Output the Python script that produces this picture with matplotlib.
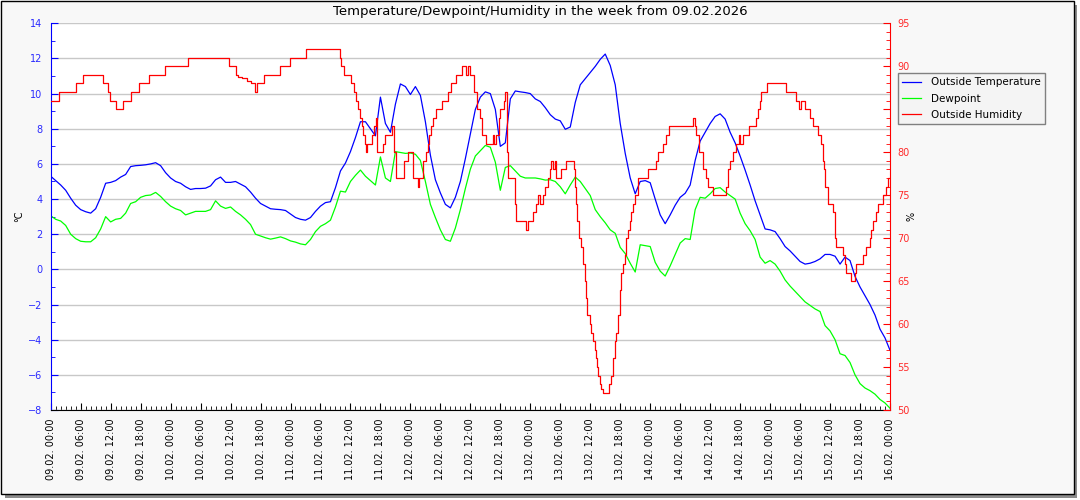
import numpy as np
import pandas as pd
import matplotlib
matplotlib.use('Agg')
import matplotlib.pyplot as plt
import matplotlib.dates as mdates
from matplotlib.patches import Rectangle
from matplotlib.ticker import MultipleLocator

# hourly values, 09.02. 00:00 .. 16.02. 00:00
temp = [
    5.3, 5.05, 4.8, 4.5, 4.05, 3.65, 3.4, 3.28, 3.2, 3.45,
    4.1, 4.9, 4.95, 5.05, 5.25, 5.4, 5.85, 5.9, 5.92, 5.95,
    6.0, 6.07, 5.9, 5.5, 5.2, 5.0, 4.9, 4.7, 4.55, 4.6,
    4.6, 4.62, 4.75, 5.1, 5.25, 4.95, 4.95, 5.0, 4.85, 4.7,
    4.4, 4.05, 3.75, 3.6, 3.45, 3.42, 3.4, 3.35, 3.15, 2.95,
    2.85, 2.8, 2.95, 3.3, 3.6, 3.8, 3.85, 4.65, 5.6, 6.05,
    6.7, 7.5, 8.4, 8.4, 8.0, 7.6, 9.8, 8.3, 7.8, 9.4,
    10.55, 10.4, 9.95, 10.4, 9.9, 8.4, 6.5, 5.1, 4.35, 3.7,
    3.5, 4.1, 5.0, 6.3, 7.7, 9.1, 9.8, 10.1, 10.0, 9.1,
    7.0, 7.2, 9.7, 10.15, 10.1, 10.06, 10.0, 9.7, 9.55, 9.2,
    8.8, 8.55, 8.45, 7.97, 8.1, 9.5, 10.5, 10.85, 11.2, 11.55,
    11.95, 12.25, 11.6, 10.5, 8.3, 6.6, 5.2, 4.3, 5.0, 5.05,
    4.93, 4.0, 3.1, 2.6, 3.1, 3.65, 4.1, 4.33, 4.8, 6.2,
    7.3, 7.8, 8.3, 8.7, 8.85, 8.55, 7.8, 7.2, 6.45, 5.65,
    4.8, 3.9, 3.1, 2.3, 2.25, 2.15, 1.75, 1.3, 1.05, 0.75,
    0.45, 0.3, 0.35, 0.45, 0.6, 0.85, 0.85, 0.75, 0.3, 0.7,
    0.5, -0.4, -1.0, -1.5, -2.0, -2.6, -3.4, -3.9, -4.6]

dew = [
    3.05, 2.85, 2.75, 2.5, 2.0, 1.75, 1.6, 1.57, 1.57, 1.8,
    2.3, 3.0, 2.7, 2.85, 2.9, 3.2, 3.75, 3.85, 4.1, 4.2,
    4.23, 4.38, 4.15, 3.85, 3.6, 3.45, 3.35, 3.1, 3.2, 3.3,
    3.3, 3.3, 3.4, 3.9, 3.6, 3.47, 3.55, 3.3, 3.1, 2.85,
    2.55, 2.0, 1.9, 1.8, 1.72, 1.78, 1.85, 1.75, 1.62, 1.55,
    1.45, 1.4, 1.7, 2.15, 2.45, 2.6, 2.8, 3.55, 4.45, 4.4,
    5.0, 5.35, 5.65, 5.3, 5.05, 4.8, 6.4, 5.2, 5.0, 6.7,
    6.65, 6.6, 6.62, 6.55, 6.2, 5.0, 3.7, 2.95, 2.25, 1.7,
    1.6, 2.35, 3.4, 4.6, 5.7, 6.45, 6.75, 7.05, 6.95, 6.1,
    4.5, 5.8, 5.9, 5.6, 5.3, 5.2, 5.2, 5.2, 5.15, 5.08,
    5.1, 5.0, 4.7, 4.3, 4.8, 5.25, 5.0, 4.6, 4.2, 3.4,
    3.0, 2.65, 2.25, 2.05, 1.25, 0.9, 0.35, -0.15, 1.4, 1.35,
    1.3, 0.4, -0.1, -0.38, 0.2, 0.85, 1.5, 1.75, 1.7, 3.4,
    4.1, 4.05, 4.3, 4.6, 4.65, 4.4, 4.2, 4.0, 3.2, 2.6,
    2.2, 1.7, 0.7, 0.35, 0.5, 0.3, -0.1, -0.6, -0.95, -1.25,
    -1.55, -1.85, -2.05, -2.25, -2.4, -3.2, -3.5, -4.0, -4.8, -4.9,
    -5.3, -6.0, -6.5, -6.75, -6.9, -7.1, -7.4, -7.6, -7.9]

# humidity only changes in steps -> change points (hours since start)
hum_hours = [
    0, 1.6, 5.0, 6.5, 10.5, 11.4, 11.9, 13.0, 14.5, 16.0,
    17.7, 19.7, 22.9, 27.5, 35.6, 37.0, 37.5, 38.3, 39.2, 40.0,
    40.9, 41.3, 42.7, 45.9, 47.9, 51.2, 57.9, 58.2, 58.8, 60.2,
    60.7, 61.2, 61.5, 61.9, 62.3, 62.6, 62.9, 63.2, 63.4, 64.3,
    64.8, 65.2, 65.4, 66.6, 67.0, 68.4, 68.8, 69.1, 70.7, 71.5,
    72.5, 73.5, 73.8, 74.6, 75.2, 75.5, 75.8, 76.2, 76.5, 77.2,
    78.4, 79.5, 80.2, 81.1, 82.4, 83.2, 83.5, 84.0, 84.7, 85.3,
    86.0, 86.4, 87.2, 88.6, 88.8, 89.2, 89.7, 90.0, 90.7, 91.0,
    91.3, 91.6, 92.9, 93.2, 95.2, 95.5, 96.5, 97.1, 97.5, 97.9,
    98.5, 99.0, 99.5, 99.9, 100.2, 100.5, 100.9, 101.1, 102.2, 103.2,
    104.7, 104.9, 105.1, 105.3, 105.7, 106.2, 106.5, 106.9, 107.2, 107.4,
    107.9, 108.2, 108.5, 108.9, 109.1, 109.3, 109.6, 109.9, 110.2, 110.5,
    111.8, 112.2, 112.5, 112.9, 113.2, 113.5, 113.9, 114.2, 114.5, 114.9,
    115.2, 115.5, 115.9, 116.2, 116.5, 116.9, 117.5, 119.5, 121.2, 121.5,
    122.5, 123.2, 123.7, 128.5, 128.9, 129.2, 129.7, 130.5, 131.2, 131.5,
    132.6, 135.2, 135.5, 135.9, 136.5, 137.2, 137.7, 138.0, 138.5, 139.7,
    141.2, 141.5, 141.9, 142.2, 143.3, 147.2, 149.2, 149.7, 150.1, 150.9,
    151.9, 152.5, 153.5, 154.2, 154.5, 154.7, 154.9, 155.5, 156.5, 156.9,
    157.2, 158.5, 158.9, 159.2, 160.2, 160.9, 161.2, 162.5, 163.2, 163.9,
    164.2, 164.5, 165.2, 165.5, 166.5, 167.1, 167.5, 168.0]
hum_vals = [
    86, 87, 88, 89, 88, 87, 86, 85, 86, 87,
    88, 89, 90, 91, 90, 89, 88.8, 88.6, 88.3, 88.1,
    87, 88, 89, 90, 91, 92, 91, 90, 89, 88,
    87, 86, 85, 84, 83, 82, 81, 80, 81, 82,
    83, 84, 80, 81, 82, 83, 80, 77, 79, 80,
    77, 76, 77, 79, 80, 81, 82, 83, 84, 85,
    86, 87, 88, 89, 90, 89, 90, 89, 87, 85,
    84, 82, 81, 82, 81, 82, 84, 85, 86, 87,
    80, 77, 74, 72, 71, 72, 73, 74, 75, 74,
    75, 76, 77, 78, 79, 78, 79, 77, 78, 79,
    78, 76, 74, 72, 70, 69, 67, 65, 63, 61,
    60, 59, 58, 57, 56, 55, 54, 53, 52.5, 52,
    53, 54, 56, 58, 59, 61, 64, 66, 67, 68,
    70, 71, 72, 73, 74, 75, 77, 78, 79, 80,
    81, 82, 83, 84, 83, 82, 80, 78, 77, 76,
    75, 76, 78, 79, 80, 81, 82, 81, 82, 83,
    84, 85, 86, 87, 88, 87, 86, 85, 86, 85,
    84, 83, 82, 81, 79, 78, 76, 74, 73, 70,
    69, 68, 67, 66, 65, 66, 67, 68, 69, 70,
    71, 72, 73, 74, 75, 76, 77, 77]

start = pd.Timestamp('2026-02-09 00:00')
times = start + pd.to_timedelta(np.arange(len(temp)), unit='h')
hum_times = start + pd.to_timedelta(hum_hours, unit='h')

W, H = 1080, 500
fig = plt.figure(figsize=(W / 100, H / 100), dpi=100)
fig.patch.set_facecolor('white')
# frame with drop shadow
fig.add_artist(Rectangle((5 / W, 2 / H), 1072 / W, 493 / H, transform=fig.transFigure,
                         facecolor='#8c8c8c', edgecolor='none', zorder=-20))
fig.add_artist(Rectangle((0.5 / W, 6 / H), 1073 / W, 493.5 / H, transform=fig.transFigure,
                         facecolor='#f8f8f8', edgecolor='black', lw=1.0, zorder=-10))

x0, x1, y0, y1 = 50.7, 890, 23.3, 410
ax = fig.add_axes([x0 / W, 1 - y1 / H, (x1 - x0) / W, (y1 - y0) / H])
ax.set_facecolor('white')
ax.set_axisbelow(True)
ax.plot(times, temp, color='#0000ff', lw=0.9, label='Outside Temperature')
ax.plot(times, dew, color='#00ff00', lw=0.9, label='Dewpoint')

ax2 = ax.twinx()
ax2.step(hum_times, hum_vals, where='post', color='#ff0000', lw=0.9, label='Outside Humidity')

ax.set_xlim(start, start + pd.Timedelta(days=7))
ax.set_ylim(-8, 14)
ax2.set_ylim(50, 95)

ax.yaxis.set_major_locator(MultipleLocator(2))
ax.yaxis.set_minor_locator(MultipleLocator(1))
ax2.yaxis.set_major_locator(MultipleLocator(5))
ax2.yaxis.set_minor_locator(MultipleLocator(1))
ax.xaxis.set_major_locator(mdates.HourLocator(byhour=range(0, 24, 6)))
ax.xaxis.set_minor_locator(mdates.HourLocator())
ax.xaxis.set_major_formatter(mdates.DateFormatter('%d.%m. %H:%M'))

ax.yaxis.grid(True, which='major', color='#c8c8c8', lw=1.0)

ax.tick_params(axis='x', which='both', direction='in', colors='black', labelsize=7, pad=6, labelrotation=90)
ax.tick_params(axis='x', which='major', length=5)
ax.tick_params(axis='x', which='minor', length=3)
ax.tick_params(axis='y', which='both', direction='in', colors='#0000ff', labelsize=7, pad=6)
ax.tick_params(axis='y', which='major', length=5)
ax.tick_params(axis='y', which='minor', length=3)
ax.tick_params(axis='y', labelcolor='#2a2aff')
ax2.tick_params(axis='y', which='both', direction='in', colors='#ff0000', labelsize=7, pad=5)
ax2.tick_params(axis='y', which='major', length=5)
ax2.tick_params(axis='y', which='minor', length=3)
ax2.tick_params(axis='y', labelcolor='#ff2a2a')

for s in ['top', 'right']:
    ax.spines[s].set_visible(False)
ax.spines['left'].set_color('#0000ff')
ax.spines['bottom'].set_color('black')
for s in ['top', 'left', 'bottom']:
    ax2.spines[s].set_visible(False)
ax2.spines['right'].set_color('#ff0000')

ax.set_ylabel('°C', fontsize=7)
ax.yaxis.set_label_coords((24 - x0) / (x1 - x0), 0.5)
ax2.set_ylabel('%', fontsize=7)
ax2.yaxis.set_label_coords((906.5 - x0) / (x1 - x0), 0.5)

fig.text(0.5, 1 - 11 / H, 'Temperature/Dewpoint/Humidity in the week from 09.02.2026',
         ha='center', va='center', fontsize=9.5)

handles = ax.get_lines() + ax2.get_lines()
fig.legend(handles, [h.get_label() for h in handles], loc='upper left',
           bbox_to_anchor=(898.3 / W, 1 - 73.3 / H), bbox_transform=fig.transFigure,
           borderaxespad=0, fontsize=7.5, fancybox=False, edgecolor='#808080',
           facecolor='#f4f4f4', framealpha=1, handlelength=1.8, handletextpad=0.9,
           labelspacing=0.6)

fig.savefig('out.png', dpi=100)
